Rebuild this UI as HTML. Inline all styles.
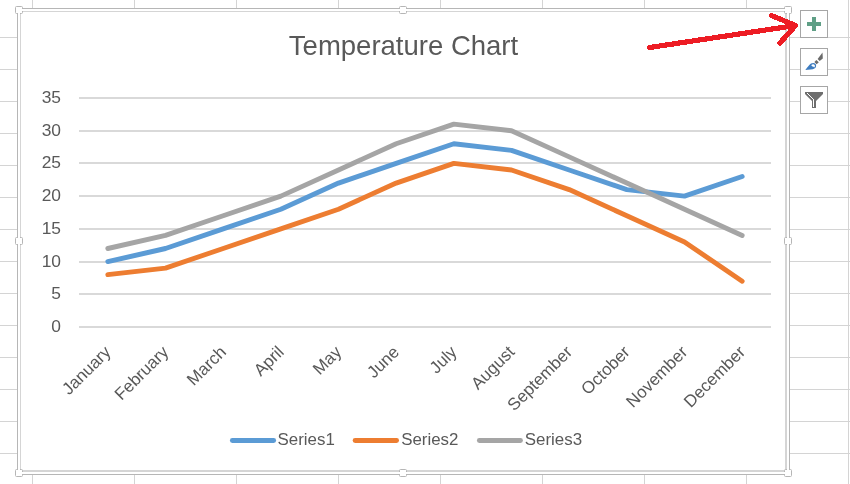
<!DOCTYPE html>
<html><head><meta charset="utf-8"><style>
html,body{margin:0;padding:0;background:#fff;width:850px;height:484px;overflow:hidden}
svg{display:block;will-change:transform;font-family:"Liberation Sans",sans-serif}
</style></head><body>
<svg width="850" height="484" viewBox="0 0 850 484">
<rect x="32" y="0" width="1" height="484" fill="#d4d4d4"/>
<rect x="134" y="0" width="1" height="484" fill="#d4d4d4"/>
<rect x="236" y="0" width="1" height="484" fill="#d4d4d4"/>
<rect x="338" y="0" width="1" height="484" fill="#d4d4d4"/>
<rect x="440" y="0" width="1" height="484" fill="#d4d4d4"/>
<rect x="542" y="0" width="1" height="484" fill="#d4d4d4"/>
<rect x="644" y="0" width="1" height="484" fill="#d4d4d4"/>
<rect x="746" y="0" width="1" height="484" fill="#d4d4d4"/>
<rect x="848" y="0" width="1" height="484" fill="#d4d4d4"/>
<rect x="0" y="37" width="850" height="1" fill="#d4d4d4"/>
<rect x="0" y="69" width="850" height="1" fill="#d4d4d4"/>
<rect x="0" y="101" width="850" height="1" fill="#d4d4d4"/>
<rect x="0" y="133" width="850" height="1" fill="#d4d4d4"/>
<rect x="0" y="165" width="850" height="1" fill="#d4d4d4"/>
<rect x="0" y="197" width="850" height="1" fill="#d4d4d4"/>
<rect x="0" y="229" width="850" height="1" fill="#d4d4d4"/>
<rect x="0" y="261" width="850" height="1" fill="#d4d4d4"/>
<rect x="0" y="293" width="850" height="1" fill="#d4d4d4"/>
<rect x="0" y="325" width="850" height="1" fill="#d4d4d4"/>
<rect x="0" y="357" width="850" height="1" fill="#d4d4d4"/>
<rect x="0" y="389" width="850" height="1" fill="#d4d4d4"/>
<rect x="0" y="421" width="850" height="1" fill="#d4d4d4"/>
<rect x="0" y="453" width="850" height="1" fill="#d4d4d4"/>
<rect x="0" y="485" width="850" height="1" fill="#d4d4d4"/>
<rect x="17" y="8" width="773" height="467" fill="#fff"/>
<rect x="17.5" y="8.5" width="772" height="466" fill="none" stroke="#b6b6b6" stroke-width="1"/>
<rect x="20" y="11" width="1" height="461" fill="#d5d5d5"/>
<rect x="20" y="11" width="767" height="1" fill="#d5d5d5"/>
<rect x="785" y="11" width="2" height="461" fill="#d5d5d5"/>
<rect x="20" y="470" width="767" height="2" fill="#d5d5d5"/>
<rect x="15.5" y="6.5" width="7" height="7" rx="1" fill="#fff" stroke="#b6b6b6" stroke-width="1"/>
<rect x="399.5" y="6.5" width="7" height="7" rx="1" fill="#fff" stroke="#b6b6b6" stroke-width="1"/>
<rect x="784.5" y="6.5" width="7" height="7" rx="1" fill="#fff" stroke="#b6b6b6" stroke-width="1"/>
<rect x="15.5" y="237.5" width="7" height="7" rx="1" fill="#fff" stroke="#b6b6b6" stroke-width="1"/>
<rect x="784.5" y="237.5" width="7" height="7" rx="1" fill="#fff" stroke="#b6b6b6" stroke-width="1"/>
<rect x="15.5" y="469.5" width="7" height="7" rx="1" fill="#fff" stroke="#b6b6b6" stroke-width="1"/>
<rect x="399.5" y="469.5" width="7" height="7" rx="1" fill="#fff" stroke="#b6b6b6" stroke-width="1"/>
<rect x="784.5" y="469.5" width="7" height="7" rx="1" fill="#fff" stroke="#b6b6b6" stroke-width="1"/>
<g fill="#fff" shape-rendering="crispEdges"><rect x="22" y="9" width="1" height="2"/><rect x="18" y="13" width="2" height="1"/><rect x="399" y="9" width="1" height="2"/><rect x="406" y="9" width="1" height="2"/><rect x="784" y="9" width="1" height="2"/><rect x="787" y="13" width="2" height="1"/><rect x="18" y="237" width="2" height="1"/><rect x="18" y="244" width="2" height="1"/><rect x="787" y="237" width="2" height="1"/><rect x="787" y="244" width="2" height="1"/><rect x="18" y="469" width="2" height="1"/><rect x="22" y="472" width="1" height="2"/><rect x="399" y="472" width="1" height="2"/><rect x="406" y="472" width="1" height="2"/><rect x="787" y="469" width="2" height="1"/><rect x="784" y="472" width="1" height="2"/></g>
<rect x="79" y="97" width="692" height="2" fill="#d9d9d9"/>
<rect x="79" y="130" width="692" height="2" fill="#d9d9d9"/>
<rect x="79" y="162" width="692" height="2" fill="#d9d9d9"/>
<rect x="79" y="195" width="692" height="2" fill="#d9d9d9"/>
<rect x="79" y="228" width="692" height="2" fill="#d9d9d9"/>
<rect x="79" y="261" width="692" height="2" fill="#d9d9d9"/>
<rect x="79" y="293" width="692" height="2" fill="#d9d9d9"/>
<rect x="79" y="326" width="692" height="2" fill="#d9d9d9"/>
<text x="403.5" y="55" text-anchor="middle" font-size="27.5" fill="#595959">Temperature Chart</text>
<text x="61" y="103" text-anchor="end" font-size="17.4" fill="#595959">35</text>
<text x="61" y="136" text-anchor="end" font-size="17.4" fill="#595959">30</text>
<text x="61" y="168" text-anchor="end" font-size="17.4" fill="#595959">25</text>
<text x="61" y="201" text-anchor="end" font-size="17.4" fill="#595959">20</text>
<text x="61" y="234" text-anchor="end" font-size="17.4" fill="#595959">15</text>
<text x="61" y="267" text-anchor="end" font-size="17.4" fill="#595959">10</text>
<text x="61" y="299" text-anchor="end" font-size="17.4" fill="#595959">5</text>
<text x="61" y="332" text-anchor="end" font-size="17.4" fill="#595959">0</text>
<text x="0" y="0" transform="translate(111.83 353) rotate(-45)" text-anchor="end" font-size="17.0" fill="#595959">January</text>
<text x="0" y="0" transform="translate(169.50 353) rotate(-45)" text-anchor="end" font-size="17.0" fill="#595959">February</text>
<text x="0" y="0" transform="translate(227.17 353) rotate(-45)" text-anchor="end" font-size="17.0" fill="#595959">March</text>
<text x="0" y="0" transform="translate(284.83 353) rotate(-45)" text-anchor="end" font-size="17.0" fill="#595959">April</text>
<text x="0" y="0" transform="translate(342.50 353) rotate(-45)" text-anchor="end" font-size="17.0" fill="#595959">May</text>
<text x="0" y="0" transform="translate(400.17 353) rotate(-45)" text-anchor="end" font-size="17.0" fill="#595959">June</text>
<text x="0" y="0" transform="translate(457.83 353) rotate(-45)" text-anchor="end" font-size="17.0" fill="#595959">July</text>
<text x="0" y="0" transform="translate(515.50 353) rotate(-45)" text-anchor="end" font-size="17.0" fill="#595959">August</text>
<text x="0" y="0" transform="translate(573.17 353) rotate(-45)" text-anchor="end" font-size="17.0" fill="#595959">September</text>
<text x="0" y="0" transform="translate(630.83 353) rotate(-45)" text-anchor="end" font-size="17.0" fill="#595959">October</text>
<text x="0" y="0" transform="translate(688.50 353) rotate(-45)" text-anchor="end" font-size="17.0" fill="#595959">November</text>
<text x="0" y="0" transform="translate(746.17 353) rotate(-45)" text-anchor="end" font-size="17.0" fill="#595959">December</text>
<path d="M107.83 261.57 L165.50 248.49 L223.17 228.86 L280.83 209.23 L338.50 183.06 L396.17 163.43 L453.83 143.80 L511.50 150.34 L569.17 169.97 L626.83 189.60 L684.50 196.14 L742.17 176.51" fill="none" stroke="#5b9bd5" stroke-width="4.9" stroke-linecap="round" stroke-linejoin="round"/>
<path d="M107.83 274.66 L165.50 268.11 L223.17 248.49 L280.83 228.86 L338.50 209.23 L396.17 183.06 L453.83 163.43 L511.50 169.97 L569.17 189.60 L626.83 215.77 L684.50 241.94 L742.17 281.20" fill="none" stroke="#ed7d31" stroke-width="4.9" stroke-linecap="round" stroke-linejoin="round"/>
<path d="M107.83 248.49 L165.50 235.40 L223.17 215.77 L280.83 196.14 L338.50 169.97 L396.17 143.80 L453.83 124.17 L511.50 130.71 L569.17 156.89 L626.83 183.06 L684.50 209.23 L742.17 235.40" fill="none" stroke="#a5a5a5" stroke-width="4.9" stroke-linecap="round" stroke-linejoin="round"/>
<line x1="232.3" y1="440.5" x2="273.7" y2="440.5" stroke="#5b9bd5" stroke-width="4.8" stroke-linecap="round"/>
<text x="277.5" y="445" font-size="16.9" fill="#595959">Series1</text>
<line x1="355.1" y1="440.5" x2="396.6" y2="440.5" stroke="#ed7d31" stroke-width="4.8" stroke-linecap="round"/>
<text x="401.2" y="445" font-size="16.9" fill="#595959">Series2</text>
<line x1="479.3" y1="440.5" x2="520.5" y2="440.5" stroke="#a5a5a5" stroke-width="4.8" stroke-linecap="round"/>
<text x="524.8" y="445" font-size="16.9" fill="#595959">Series3</text>
<rect x="800.5" y="10.5" width="27" height="27" fill="#fff" stroke="#a6a6a6" stroke-width="1"/>
<rect x="800.5" y="48.5" width="27" height="27" fill="#fff" stroke="#a6a6a6" stroke-width="1"/>
<rect x="800.5" y="86.5" width="27" height="27" fill="#fff" stroke="#a6a6a6" stroke-width="1"/>
<rect x="807" y="22" width="14" height="4" fill="#5f9f86"/>
<rect x="812" y="17" width="4" height="14" fill="#5f9f86"/>
<path d="M822.5 52.6 L822.8 58.4 L819.7 60.9 L817.6 58.9 Z" fill="#6b6b6b"/>
<path d="M816.4 60 L818.8 62.2 L816.6 64.3 L814.4 62 Z" fill="#6b6b6b"/>
<path d="M805.3 69.9 C807.8 67.2 809.4 64.6 811 63.6 C812.6 62.6 814.6 62.8 815.6 64 C816.6 65.3 816.2 67.6 814.4 68.6 C812.6 69.6 809 69.9 805.3 69.9 Z" fill="#3d7cc0"/>
<path d="M811.2 65.2 C812 64.1 813.8 63.9 814.6 64.9 C815.2 65.8 814.9 66.9 814.1 67.4 L813.6 66.7 L812.5 66.5 Z" fill="#fff"/>
<path d="M805 92 L823 92 L823 94 L816 101 L816 108 L812 108 L812 101 L805 94 Z" fill="#6e6e6e"/>
<g fill="#fff" shape-rendering="crispEdges"><rect x="807" y="93" width="1" height="1"/><rect x="808" y="94" width="1" height="1"/><rect x="809" y="95" width="1" height="1"/><rect x="810" y="96" width="1" height="1"/><rect x="811" y="97" width="1" height="1"/><rect x="812" y="98" width="1" height="1"/><rect x="813" y="99" width="1" height="1"/><rect x="813" y="100" width="1" height="7"/></g>
<g shape-rendering="crispEdges" fill="none" stroke="#ed1c24" stroke-width="5.2" stroke-linecap="round" stroke-linejoin="round"><path d="M649.5 47.5 L795.5 25.5"/><path d="M771.5 15.5 L795.5 25.5 L780 43"/></g>
</svg>
</body></html>
